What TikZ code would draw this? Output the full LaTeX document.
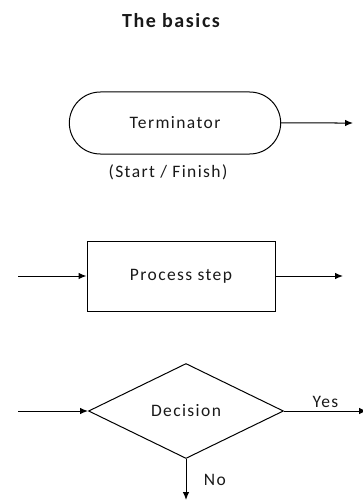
\documentclass[tikz,border=0pt]{standalone}
\usepackage{fontspec}
\setmainfont{Carlito}[LetterSpace=8]
\usetikzlibrary{arrows,arrows.meta}
\usetikzlibrary{shapes,positioning,calc}

\begin{document}
\begin{tikzpicture}[>={Latex[length=8pt,width=6.5pt]}, x=1pt, y=-1pt, line width=1pt,
		font=\fontsize{17.5}{20}\selectfont, text=black!90,
		term/.style={draw, rounded rectangle, minimum width=218pt, minimum height=62pt},
		proc/.style={draw, rectangle, minimum width=188pt, minimum height=70pt},
		decide/.style={draw, diamond, inner sep=0pt, minimum width=195pt, minimum height=95pt}]
	\useasboundingbox (0,0) rectangle (362,500);
	\node (title) at (171,21) {\fontsize{20}{24}\selectfont\bfseries The basics};
	% start / finish
	\node[term] (term) at (175,123) {Terminator};
	\node (termnote) at (168,172) {(Start / Finish)};
	\coordinate (termout) at (353,123);
	\draw[->] (term) -- (termout);
	% process
	\node[proc] (proc) at (181,276) {Process step};
	\coordinate (procin) at (18,276);
	\coordinate (procout) at (343,276);
	\draw[->] (procin) -- (proc);
	\draw[->] (proc) -- (procout);
	% decision
	\node[decide] (dec) at (186,411) {Decision};
	\coordinate (decin) at (18,411);
	\coordinate (decyes) at (367,411);
	\coordinate (decno) at (186,500);
	\draw[->] (decin) -- (dec);
	\draw[->] (dec) -- node[above] {Yes} (decyes);
	\draw[->] (dec) -- node[right=14pt] {No} (decno);
\end{tikzpicture}
\end{document}
